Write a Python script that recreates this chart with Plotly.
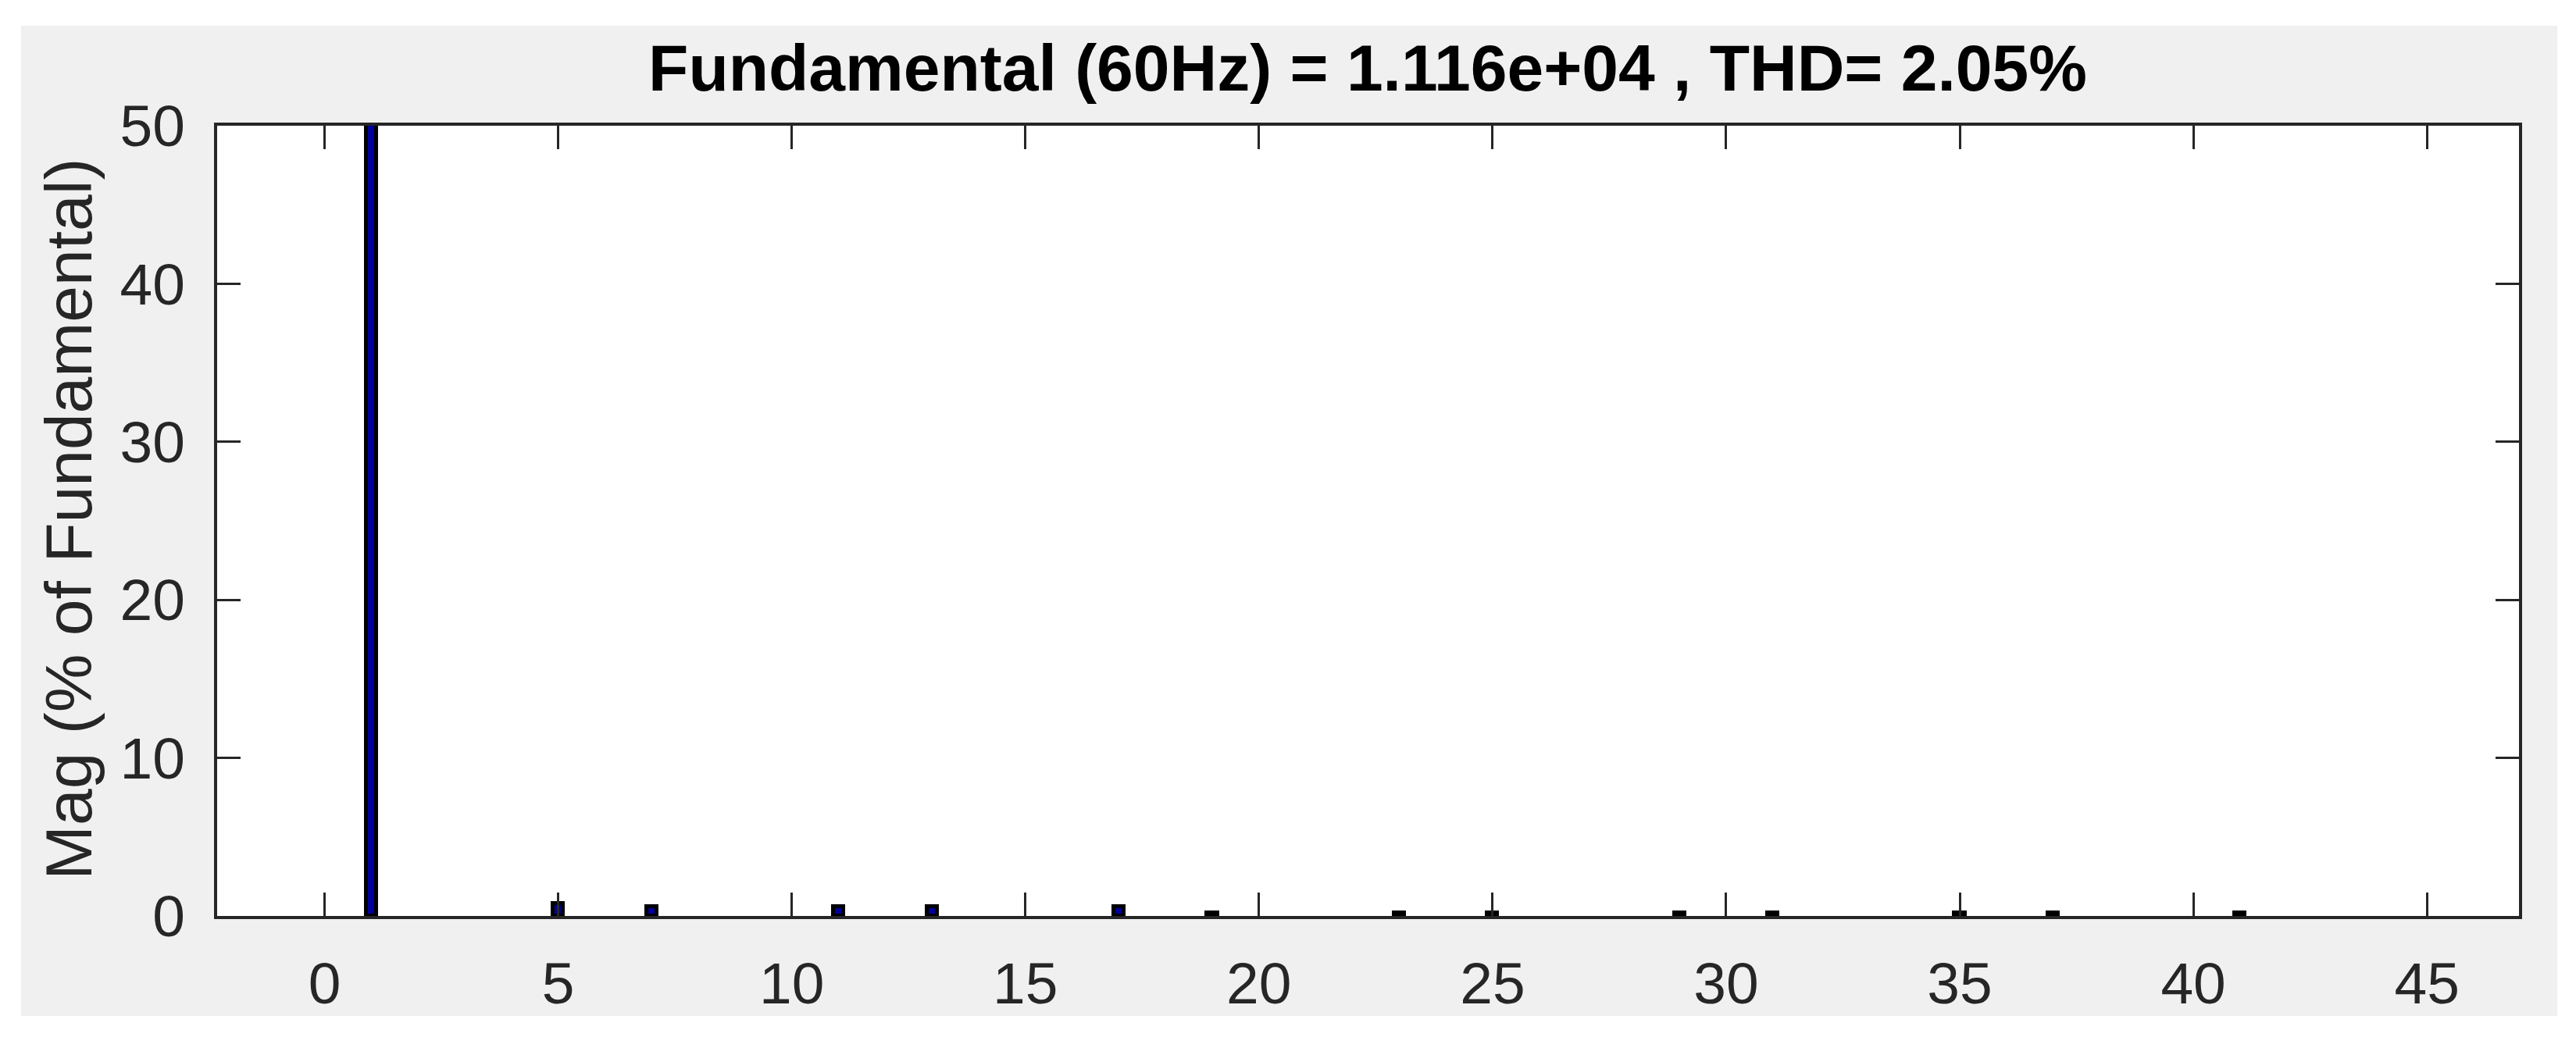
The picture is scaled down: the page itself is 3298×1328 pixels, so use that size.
import plotly.graph_objects as go

# Harmonic order and magnitude (% of fundamental)
harmonics = [1, 5, 7, 11, 13, 17, 19, 23, 25, 29, 31, 35, 37, 41]
magnitude = [100.0, 0.8, 0.6, 0.6, 0.6, 0.6, 0.2, 0.2, 0.2, 0.2, 0.2, 0.2, 0.2, 0.2]

x_ticks = [0, 5, 10, 15, 20, 25, 30, 35, 40, 45]
y_ticks = [0, 10, 20, 30, 40, 50]

title_text = "Fundamental (60Hz) = 1.116e+04 , THD= 2.05%"
ylabel_text = "Mag (% of Fundamental)"

W, H = 3298, 1328
L, R, T, B = 270, 3217, 153, 1165
pw, ph = R - L, B - T

def px(xp):
    return (xp - L) / pw

def py(yp):
    return (B - yp) / ph

FONT = "Liberation Sans, Arial, Helvetica, sans-serif"
AX = "#262626"

fig = go.Figure()
fig.add_trace(go.Bar(
    x=harmonics, y=magnitude, width=0.22,
    marker=dict(color="#00009c", line=dict(color="black", width=5)),
    showlegend=False,
))

axis_common = dict(
    showline=True, linecolor=AX, linewidth=4, mirror="ticks",
    ticks="inside", ticklen=30, tickwidth=3, tickcolor=AX,
    showgrid=False, zeroline=False,
    tickfont=dict(family=FONT, size=75, color=AX),
)

fig.update_xaxes(range=[-2.3, 46.97], tickmode="array", tickvals=x_ticks,
                 ticklabelstandoff=18, **axis_common)
fig.update_yaxes(range=[0, 50], tickmode="array", tickvals=y_ticks,
                 ticklabelstandoff=22, **axis_common)

shapes = []
# white borders around the grey figure background
for x0, x1, y0, y1 in [(-0.2, 1.2, py(25), 1.3), (-0.2, 1.2, -0.3, py(1293)),
                       (-0.2, px(19), -0.3, 1.3), (px(3266), 1.2, -0.3, 1.3)]:
    shapes.append(dict(type="rect", xref="paper", yref="paper", x0=x0, x1=x1,
                       y0=y0, y1=y1, fillcolor="white", line=dict(width=0),
                       layer="below"))

fig.update_layout(
    width=W, height=H,
    margin=dict(l=L, r=W - R, t=T, b=H - B),
    paper_bgcolor="#f0f0f0", plot_bgcolor="white",
    title=dict(text="<b>" + title_text + "</b>", x=px(1743), xref="paper",
               xanchor="center", y=1 - 79 / H, yref="container", yanchor="middle",
               font=dict(family=FONT, size=84, color="black")),
    shapes=shapes,
    annotations=[dict(text=ylabel_text, textangle=-90, xref="paper", yref="paper",
                      x=px(80), y=py(657), xanchor="center", yanchor="middle",
                      showarrow=False,
                      font=dict(family=FONT, size=84, color=AX))],
    bargap=0,
)

fig.write_html("out.html")
